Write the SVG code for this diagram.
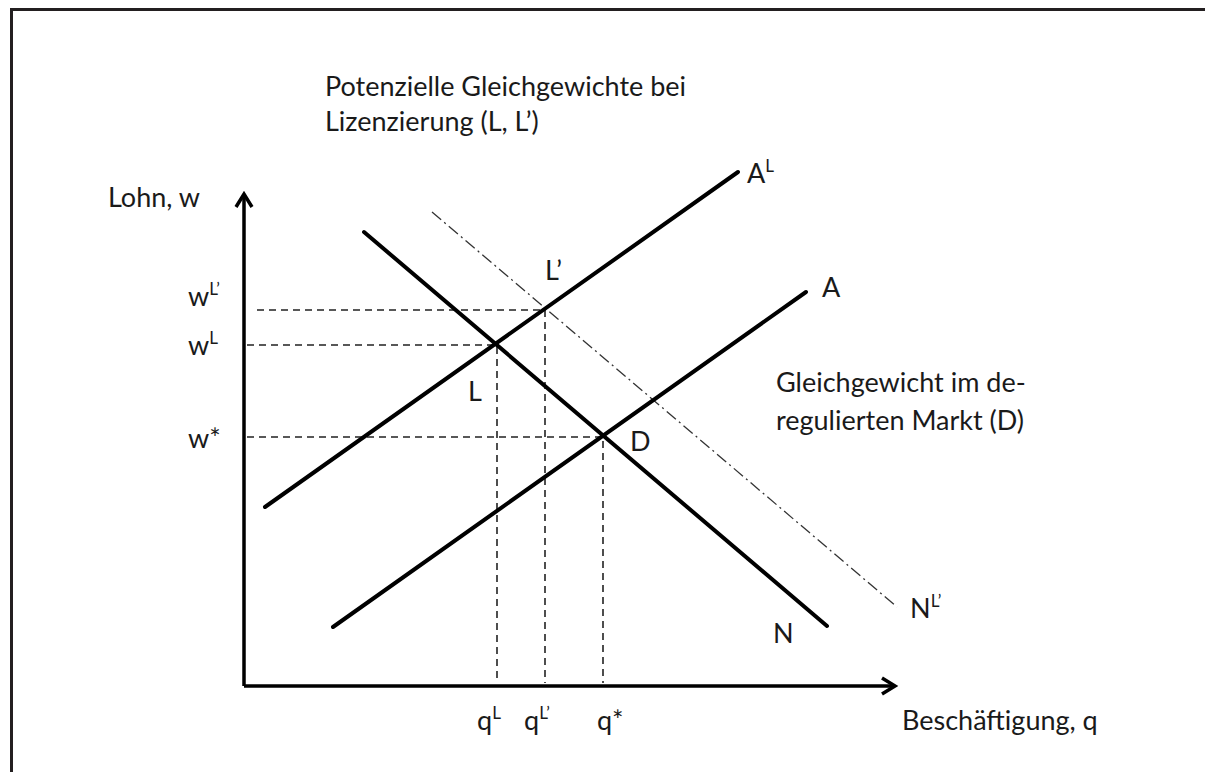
<svg xmlns="http://www.w3.org/2000/svg" width="1205" height="772" viewBox="0 0 1205 772">
<style>
text{font-family:Lato,"Liberation Sans",sans-serif;font-size:27px;fill:#1a1a1a}
.sup{font-size:17px}
.curve{stroke:#000;stroke-width:4;fill:none;stroke-linecap:round}
.axis{stroke:#000;stroke-width:3.5;fill:none}
.dash{stroke:#222;stroke-width:1.6;stroke-dasharray:7 5;fill:none}
.dd{stroke:#333;stroke-width:1.3;stroke-dasharray:12 4 2 4;fill:none}
</style>
<rect width="1205" height="772" fill="#fff"/>
<path d="M11.5,772 V9.5 H1205" stroke="#231f20" stroke-width="3" fill="none"/>
<g id="axes">
<path class="axis" d="M244,686 V195 M244,686 H894"/>
<path class="axis" d="M236,207 L244,194 L252,207 M882,678 L895,686 L882,694" stroke-linejoin="miter"/>
</g>
<g id="connectors">
<path class="dash" d="M257,310 H545 V683"/>
<path class="dash" d="M247,345 H497 V683"/>
<path class="dash" d="M247,437 H603 V683"/>
<path class="dd" d="M432,212 L897,607"/>
<path class="curve" d="M265,507 L738,172"/>
<path class="curve" d="M333,627 L806,292"/>
<path class="curve" d="M364,232 L827,626"/>
</g>
<g id="title"><text x="325" y="96">Potenzielle Gleichgewichte bei</text><text x="325" y="131">Lizenzierung (L, L’)</text></g>
<g id="ylabel"><text x="200" y="207" text-anchor="end">Lohn, w</text></g>
<g id="xlabel"><text x="902" y="730">Beschäftigung, q</text></g>
<g id="wLp"><text x="188" y="306">w<tspan class="sup" dy="-11">L’</tspan></text></g>
<g id="wL"><text x="188" y="355">w<tspan class="sup" dy="-11">L</tspan></text></g>
<g id="wstar"><text x="188" y="448">w*</text></g>
<g id="qL"><text x="477" y="730">q<tspan class="sup" dy="-11">L</tspan></text></g>
<g id="qLp"><text x="524" y="730">q<tspan class="sup" dy="-11">L’</tspan></text></g>
<g id="qstar"><text x="597" y="730">q*</text></g>
<g id="L"><text x="468" y="401">L</text></g>
<g id="Lp"><text x="545" y="280">L’</text></g>
<g id="D"><text x="630" y="451">D</text></g>
<g id="AL"><text x="747" y="183">A<tspan class="sup" dy="-11">L</tspan></text></g>
<g id="A"><text x="822" y="297">A</text></g>
<g id="N"><text x="773" y="643">N</text></g>
<g id="NLp"><text x="910" y="618">N<tspan class="sup" dy="-11">L’</tspan></text></g>
<g id="Dtext"><text x="776" y="392">Gleichgewicht im de-</text><text x="776" y="430">regulierten Markt (D)</text></g>
</svg>
